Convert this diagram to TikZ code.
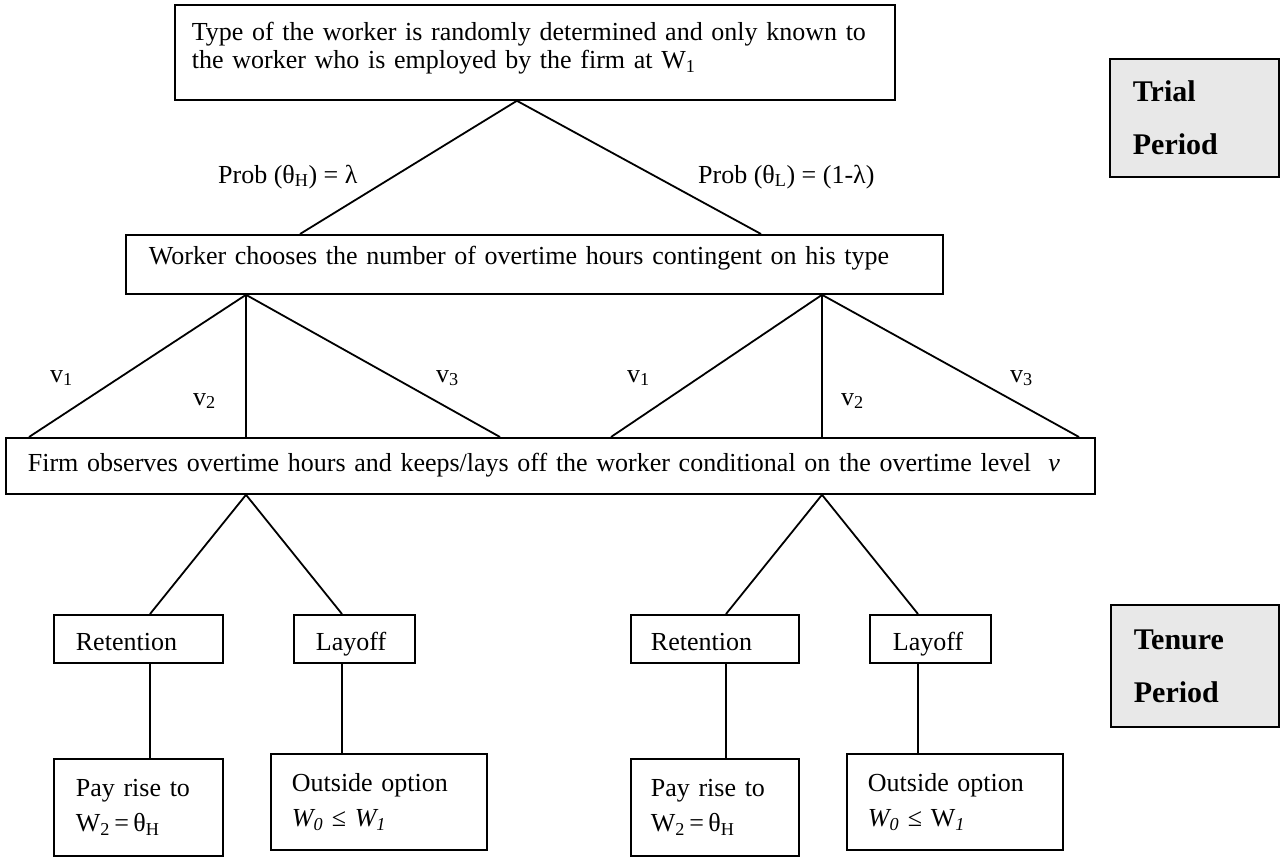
\documentclass[tikz,border=0pt]{standalone}
\usepackage{fontspec}
\setmainfont{Liberation Serif}
\usepackage{tikz}
\definecolor{panelgray}{RGB}{232,232,232}
\tikzset{
    box/.style={draw, line width=1.8pt, anchor=north west, align=left, inner ysep=0pt,
        font=\fontsize{26}{30}\selectfont},
    oneline/.style={box, text height=24pt, text depth=0pt},
    twoline/.style={box, font=\fontsize{26}{35}\selectfont},
    period/.style={box, fill=panelgray, inner xsep=23pt, font=\fontsize{30}{53}\selectfont\bfseries},
    branch/.style={line width=1.8pt},
    lbl/.style={anchor=base west, inner sep=0pt, font=\fontsize{26}{30}\selectfont}
}

\begin{document}
\begin{tikzpicture}[x=1pt, y=-1pt]
    \useasboundingbox (0,0) rectangle (1281,856);

    % Decision stages
    \node[box, font=\fontsize{26}{28}\selectfont, text height=18pt, text depth=41pt, minimum width=720,
        minimum height=95, inner xsep=17pt, text width=686] (nature) at (174,4)
        {Type of the worker is randomly determined and only known to\\the worker who is employed by the firm at W\textsubscript{1}};
    \node[box, text height=12pt, text depth=12pt, minimum width=817, minimum height=59, inner xsep=23pt,
        text width=771] (worker) at (125,234)
        {Worker chooses the number of overtime hours contingent on his type};
    \node[box, text height=18pt, text depth=6pt, minimum width=1089, minimum height=56, inner xsep=22pt,
        text width=1045] (firm) at (5,437)
        {Firm observes overtime hours and keeps/lays off the worker conditional on the overtime level~~\textit{v}};

    % Outcomes, left branch
    \node[oneline, minimum width=169, minimum height=48, inner xsep=22pt, text width=125] (keepA) at (53,614) {Retention};
    \node[oneline, minimum width=121, minimum height=48, inner xsep=22pt, text width=77] (fireA) at (293,614) {Layoff};
    \node[twoline, minimum width=169, minimum height=97, inner xsep=22pt, text width=125] (payA) at (53,758)
        {Pay rise to\\W\textsubscript{2}\,=\,θ\textsubscript{H}};
    \node[twoline, minimum width=216, minimum height=96, inner xsep=21pt, text width=174] (outA) at (270,753)
        {Outside option\\\textit{W\textsubscript{0}} ≤ \textit{W\textsubscript{1}}};

    % Outcomes, right branch
    \node[oneline, minimum width=168, minimum height=48, inner xsep=20pt, text width=128] (keepB) at (630,614) {Retention};
    \node[oneline, minimum width=121, minimum height=48, inner xsep=23pt, text width=75] (fireB) at (869,614) {Layoff};
    \node[twoline, minimum width=168, minimum height=97, inner xsep=20pt, text width=128] (payB) at (630,758)
        {Pay rise to\\W\textsubscript{2}\,=\,θ\textsubscript{H}};
    \node[twoline, minimum width=216, minimum height=96, inner xsep=21pt, text width=174] (outB) at (846,753)
        {Outside option\\\textit{W\textsubscript{0}} ≤ W\textsubscript{\textit{1}}};

    % Period markers
    \node[period, minimum width=169, minimum height=118, text width=123] (trial) at (1109,58) {Trial\\Period};
    \node[period, minimum width=168, minimum height=122, text width=122] (tenure) at (1110,604) {Tenure\\Period};

    % Nature draws the type
    \draw[branch] ([xshift=-18pt]nature.south) -- ([xshift=175pt]worker.north west);
    \draw[branch] ([xshift=-18pt]nature.south) -- ([xshift=636pt]worker.north west);
    \node[lbl] (probH) at (218,183) {Prob (θ\textsubscript{H}) = λ};
    \node[lbl] (probL) at (698,183) {Prob (θ\textsubscript{L}) = (1-λ)};

    % Overtime choices
    \foreach \apex/\ends in {121/{24,241,495}, 697/{606,817,1074}} {
        \foreach \e in \ends {
            \draw[branch] ([xshift=\apex pt]worker.south west) -- ([xshift=\e pt]firm.north west);
        }
    }
    \foreach \x/\y/\k in {50/382/1, 193/405/2, 436/382/3, 627/382/1, 841/405/2, 1010/382/3} {
        \node[lbl] (v\k-\x) at (\x,\y) {v\textsubscript{\k}};
    }

    % Firm keeps or lays off
    \draw[branch] ([xshift=241pt]firm.south west) -- ([xshift=97pt]keepA.north west);
    \draw[branch] ([xshift=241pt]firm.south west) -- ([xshift=49pt]fireA.north west);
    \draw[branch] ([xshift=817pt]firm.south west) -- ([xshift=96pt]keepB.north west);
    \draw[branch] ([xshift=817pt]firm.south west) -- ([xshift=49pt]fireB.north west);

    % Payoffs
    \draw[branch] ([xshift=97pt]keepA.south west) -- ([xshift=97pt]keepA.south west |- payA.north);
    \draw[branch] ([xshift=49pt]fireA.south west) -- ([xshift=49pt]fireA.south west |- outA.north);
    \draw[branch] ([xshift=96pt]keepB.south west) -- ([xshift=96pt]keepB.south west |- payB.north);
    \draw[branch] ([xshift=49pt]fireB.south west) -- ([xshift=49pt]fireB.south west |- outB.north);
\end{tikzpicture}
\end{document}
